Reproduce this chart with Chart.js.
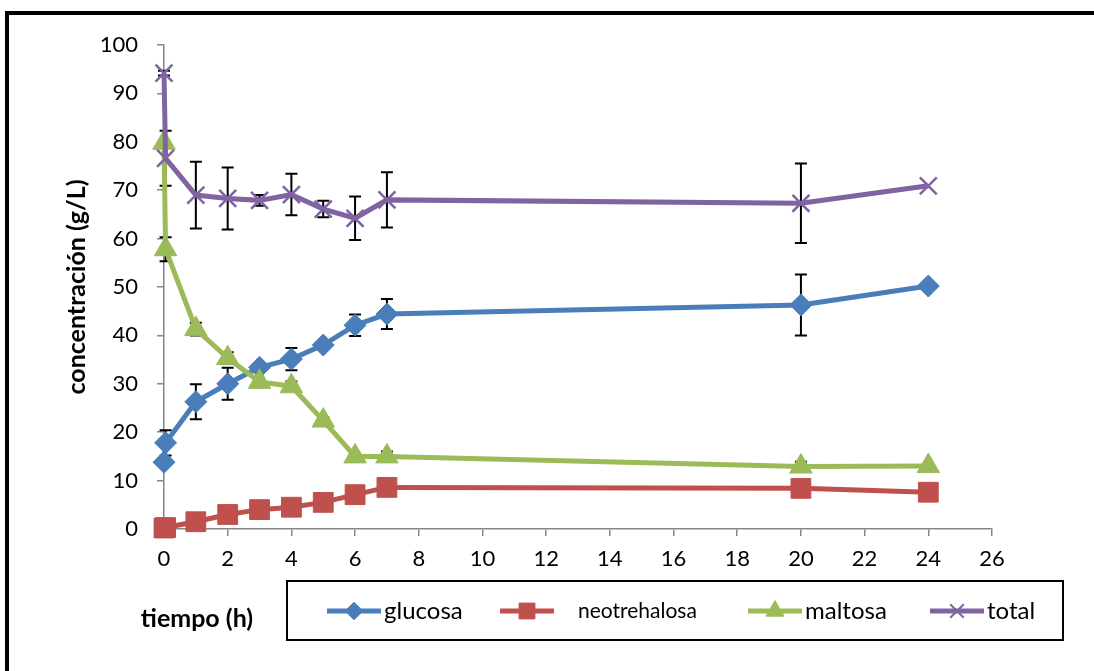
<!DOCTYPE html>
<html>
<head>
<meta charset="utf-8">
<script src="https://cdn.jsdelivr.net/npm/chart.js@4/dist/chart.umd.min.js"></script>
<style>
  html, body { margin: 0; padding: 0; background: #fff; }
  canvas { display: block; }
</style>
</head>
<body>
<canvas id="chart" width="1094" height="671"></canvas>
<script>
// time points (h); the second point is taken just after t = 0
const tiempo = [0, 0.05, 1, 2, 3, 4, 5, 6, 7, 20, 24]

const glucosa = [13.8, 17.8, 26.3, 30.0, 33.4, 35.1, 38.0, 42.1, 44.4, 46.3, 50.2]
const glucosaErr = [0, 2.6, 3.6, 3.3, 0, 2.3, 0, 2.2, 3.1, 6.3, 0]

const neotrehalosa = [0.2, 0.3, 1.5, 3.0, 4.0, 4.5, 5.5, 7.1, 8.6, 8.4, 7.6]
const neotrehalosaErr = [0, 0, 0, 0, 0, 0, 0, 0, 0, 0, 0]

const maltosa = [79.8, 57.8, 41.3, 35.3, 30.4, 29.5, 22.4, 15.0, 15.0, 12.9, 13.0]
const maltosaErr = [0, 2.5, 1.3, 1.2, 0, 1.0, 0.7, 0.5, 1.0, 1.0, 0]

const total = [94.2, 76.6, 69.0, 68.3, 67.9, 69.1, 66.1, 64.2, 68.0, 67.3, 70.9]
const totalErr = [0.5, 5.7, 6.9, 6.4, 1.1, 4.3, 1.7, 4.5, 5.7, 8.2, 0]

const xTicks = [0, 2, 4, 6, 8, 10, 12, 14, 16, 18, 20, 22, 24, 26]
const yTicks = [0, 10, 20, 30, 40, 50, 60, 70, 80, 90, 100]

const FONT = 'Lato, "Liberation Sans", sans-serif'
const AXIS_GRAY = '#868686'

const series = [
  { label: 'glucosa', values: glucosa, err: glucosaErr, color: '#4A7EBB', style: 'rectRot', radius: 11, legendX: 354, textX: 384, font: '24px ' + FONT },
  { label: 'neotrehalosa', values: neotrehalosa, err: neotrehalosaErr, color: '#C0504D', style: 'rect', radius: 14, legendX: 527, textX: 578, font: '21px ' + FONT },
  { label: 'maltosa', values: maltosa, err: maltosaErr, color: '#9BBB59', style: 'triangle', radius: 13, legendX: 775, textX: 805, font: '24px ' + FONT },
  { label: 'total', values: total, err: totalErr, color: '#8064A2', style: 'crossRot', radius: 12, legendX: 957, textX: 987, font: '24px ' + FONT }
]

const datasets = series.map((s, i) => ({
  label: s.label,
  data: tiempo.map((t, k) => ({ x: t, y: s.values[k] })),
  borderColor: s.color,
  backgroundColor: s.color,
  borderWidth: 5,
  pointStyle: s.style,
  pointRadius: s.radius,
  pointBackgroundColor: s.color,
  pointBorderColor: s.color,
  pointBorderWidth: s.style === 'crossRot' ? 2.5 : 1,
  tension: 0,
  clip: false,
  order: series.length - i
}))

// error bars, drawn under the markers
const errorBars = {
  id: 'errorBars',
  beforeDatasetsDraw(chart) {
    const ctx = chart.ctx
    const xs = chart.scales.x
    const ys = chart.scales.y
    ctx.save()
    ctx.strokeStyle = '#000'
    ctx.lineWidth = 2
    series.forEach(s => {
      s.values.forEach((v, k) => {
        const e = s.err[k]
        if (!e) return
        const px = xs.getPixelForValue(tiempo[k])
        const top = ys.getPixelForValue(v + e)
        const bot = ys.getPixelForValue(v - e)
        ctx.beginPath()
        ctx.moveTo(px, top); ctx.lineTo(px, bot)
        ctx.moveTo(px - 6, top); ctx.lineTo(px + 6, top)
        ctx.moveTo(px - 6, bot); ctx.lineTo(px + 6, bot)
        ctx.stroke()
      })
    })
    ctx.restore()
  }
}

// frame, axis titles and the boxed legend
const decorations = {
  id: 'decorations',
  afterDraw(chart) {
    const ctx = chart.ctx
    ctx.save()

    ctx.strokeStyle = '#000'
    ctx.lineWidth = 4
    ctx.beginPath()
    ctx.moveTo(7, 671)
    ctx.lineTo(7, 13)
    ctx.lineTo(1094, 13)
    ctx.stroke()

    ctx.fillStyle = '#000'
    ctx.font = 'bold 25px ' + FONT
    ctx.textAlign = 'center'
    ctx.textBaseline = 'middle'
    ctx.fillText('tiempo (h)', 197, 619)

    ctx.save()
    ctx.translate(77, 287)
    ctx.rotate(-Math.PI / 2)
    ctx.fillText('concentración (g/L)', 0, 0)
    ctx.restore()

    ctx.lineWidth = 2
    ctx.strokeRect(287, 581, 776, 59)

    const ly = 611
    series.forEach(s => {
      ctx.strokeStyle = s.color
      ctx.fillStyle = s.color
      ctx.lineWidth = 5
      ctx.beginPath()
      ctx.moveTo(s.legendX - 27, ly)
      ctx.lineTo(s.legendX + 27, ly)
      ctx.stroke()
      ctx.lineWidth = s.style === 'crossRot' ? 2 : 1
      Chart.helpers.drawPoint(ctx, {
        pointStyle: s.style,
        radius: s.radius * 0.8,
        rotation: 0,
        borderWidth: ctx.lineWidth
      }, s.legendX, ly)
      ctx.fillStyle = '#000'
      ctx.font = s.font
      ctx.textAlign = 'left'
      ctx.fillText(s.label, s.textX, ly)
    })

    ctx.restore()
  }
}

new Chart(document.getElementById('chart').getContext('2d'), {
  type: 'line',
  data: { datasets },
  options: {
    responsive: false,
    devicePixelRatio: 1,
    animation: false,
    layout: { padding: { top: 45, right: 102, left: 0, bottom: 0 } },
    plugins: {
      legend: { display: false },
      tooltip: { enabled: false }
    },
    scales: {
      x: {
        type: 'linear',
        min: 0,
        max: 26,
        afterBuildTicks: axis => { axis.ticks = xTicks.map(v => ({ value: v })) },
        afterFit: axis => { axis.height = 142 },
        grid: { drawOnChartArea: false, color: AXIS_GRAY, lineWidth: 1.5, tickLength: 7 },
        border: { color: AXIS_GRAY, width: 1.5 },
        ticks: { color: '#000', font: { family: FONT, size: 22 }, padding: 10, maxRotation: 0 }
      },
      y: {
        type: 'linear',
        min: 0,
        max: 100,
        afterBuildTicks: axis => { axis.ticks = yTicks.map(v => ({ value: v })) },
        afterFit: axis => { axis.width = 164 },
        grid: { drawOnChartArea: false, color: AXIS_GRAY, lineWidth: 1.5, tickLength: 7 },
        border: { color: AXIS_GRAY, width: 1.5 },
        ticks: { color: '#000', font: { family: FONT, size: 22 }, padding: 19 }
      }
    }
  },
  plugins: [errorBars, decorations]
})
</script>
</body>
</html>
